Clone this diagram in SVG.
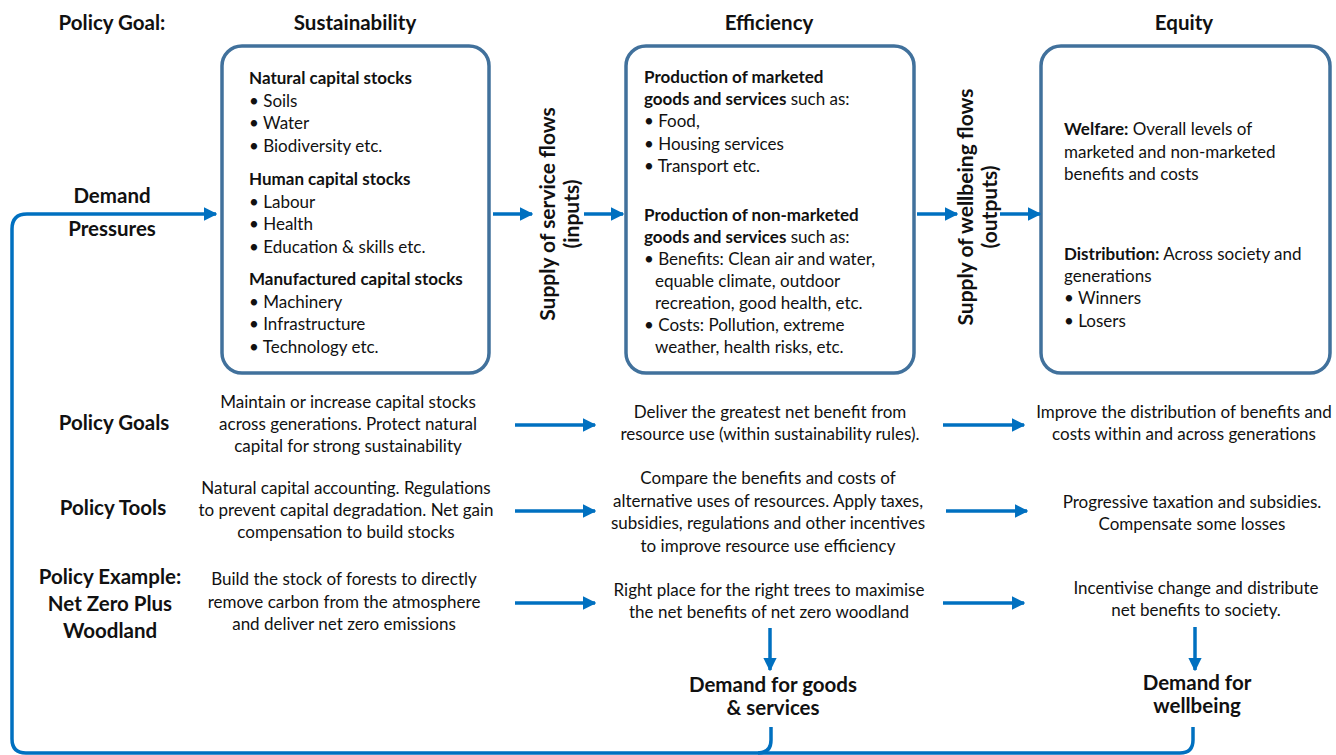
<svg xmlns="http://www.w3.org/2000/svg" width="1336" height="755" viewBox="0 0 1336 755">
<defs>
<style>
text{font-family:Lato,"Liberation Sans",Arial,sans-serif;fill:#111;}
.h{font-size:20.5px;font-weight:bold;}
.v{font-size:21px;font-weight:bold;}
.t{font-size:17px;}
.b{font-weight:bold;}
.c{text-anchor:middle;}
.box{fill:#fff;stroke:#41719C;stroke-width:3.5;}
.con{fill:none;stroke:#0070C0;stroke-width:3.5;}
</style>
<marker id="ah" viewBox="0 0 10 10" refX="9" refY="5" markerWidth="3.8" markerHeight="3.8" orient="auto" markerUnits="strokeWidth">
<path d="M0 0 L10 5 L0 10 z" fill="#0070C0"/>
</marker>
</defs>
<rect width="1336" height="755" fill="#fff"/>

<g id="headers">
<text class="h c" x="112" y="30">Policy Goal:</text>
<text class="h c" x="355" y="30">Sustainability</text>
<text class="h c" x="769" y="30">Efficiency</text>
<text class="h c" x="1184" y="30">Equity</text>
</g>

<g id="sustainability">
<rect class="box" x="222" y="46" width="267" height="327" rx="20"/>
<text class="t" x="249" y="84"><tspan class="b">Natural capital stocks</tspan>
<tspan x="249" dy="22.5">• Soils</tspan><tspan x="249" dy="22.5">• Water</tspan><tspan x="249" dy="22.5">• Biodiversity etc.</tspan></text>
<text class="t" x="249" y="185"><tspan class="b">Human capital stocks</tspan>
<tspan x="249" dy="22.5">• Labour</tspan><tspan x="249" dy="22.5">• Health</tspan><tspan x="249" dy="22.5">• Education &amp; skills etc.</tspan></text>
<text class="t" x="249" y="285"><tspan class="b">Manufactured capital stocks</tspan>
<tspan x="249" dy="22.5">• Machinery</tspan><tspan x="249" dy="22.5">• Infrastructure</tspan><tspan x="249" dy="22.5">• Technology  etc.</tspan></text>
</g>

<g id="efficiency">
<rect class="box" x="626" y="46" width="288" height="327" rx="20"/>
<text class="t" x="644" y="83"><tspan class="b">Production of marketed</tspan>
<tspan x="644" dy="22"><tspan class="b">goods and services</tspan> such as:</tspan>
<tspan x="644" dy="22">• Food,</tspan><tspan x="644" dy="22.5">• Housing services</tspan><tspan x="644" dy="22">• Transport etc.</tspan></text>
<text class="t" x="644" y="221"><tspan class="b">Production of non-marketed</tspan>
<tspan x="644" dy="22"><tspan class="b">goods and services</tspan> such as:</tspan>
<tspan x="644" dy="22">• Benefits: Clean air and water,</tspan>
<tspan x="655" dy="22">equable climate, outdoor</tspan>
<tspan x="655" dy="22">recreation, good health, etc.</tspan>
<tspan x="644" dy="22">• Costs: Pollution, extreme</tspan>
<tspan x="655" dy="22">weather, health risks, etc.</tspan></text>
</g>

<g id="equity">
<rect class="box" x="1041" y="46" width="289" height="327" rx="20"/>
<text class="t" x="1064" y="135"><tspan class="b">Welfare:</tspan> Overall levels of
<tspan x="1064" dy="22.5">marketed and non-marketed</tspan>
<tspan x="1064" dy="22.5">benefits and costs</tspan></text>
<text class="t" x="1064" y="260"><tspan class="b">Distribution:</tspan>  Across society and
<tspan x="1064" dy="22">generations</tspan>
<tspan x="1064" dy="22">• Winners</tspan>
<tspan x="1064" dy="23">• Losers</tspan></text>
</g>

<g id="demand-pressures">
<text class="h c" x="112" y="203">Demand</text>
<text class="h c" x="112" y="236">Pressures</text>
</g>

<g id="supply-service">
<text class="v c" transform="translate(555 214) rotate(-90)"><tspan x="0" y="0">Supply of service flows</tspan><tspan x="0" y="24">(inputs)</tspan></text>
</g>
<g id="supply-wellbeing">
<text class="v c" transform="translate(973 207) rotate(-90)"><tspan x="0" y="0">Supply of wellbeing flows</tspan><tspan x="0" y="24">(outputs)</tspan></text>
</g>

<g id="row-labels">
<text class="h c" x="114" y="430">Policy Goals</text>
<text class="h c" x="113" y="515">Policy Tools</text>
<text class="h c" x="110" y="584">Policy Example:</text>
<text class="h c" x="110" y="611">Net Zero Plus</text>
<text class="h c" x="110" y="638">Woodland</text>
</g>

<g id="goals-text">
<text class="t c" x="348" y="408">Maintain or increase capital stocks<tspan x="348" dy="22">across generations. Protect natural</tspan><tspan x="348" dy="22">capital for strong sustainability</tspan></text>
<text class="t c" x="770" y="418">Deliver the greatest net benefit from<tspan x="770" dy="22">resource use (within sustainability rules).</tspan></text>
<text class="t c" x="1184" y="418">Improve the distribution of benefits and<tspan x="1184" dy="22">costs within and across generations</tspan></text>
</g>

<g id="tools-text">
<text class="t c" x="346" y="494">Natural capital accounting. Regulations<tspan x="346" dy="22">to prevent capital degradation. Net gain</tspan><tspan x="346" dy="22">compensation to build stocks</tspan></text>
<text class="t c" x="768" y="484">Compare the benefits and costs of<tspan x="768" dy="22.5">alternative uses of resources. Apply taxes,</tspan><tspan x="768" dy="22.5">subsidies, regulations and other incentives</tspan><tspan x="768" dy="22.5">to improve resource use efficiency</tspan></text>
<text class="t c" x="1192" y="508">Progressive taxation and subsidies.<tspan x="1192" dy="22">Compensate some losses</tspan></text>
</g>

<g id="example-text">
<text class="t c" x="344" y="585">Build the stock of forests to directly<tspan x="344" dy="22.5">remove carbon from the atmosphere</tspan><tspan x="344" dy="22.5">and deliver net zero emissions</tspan></text>
<text class="t c" x="769" y="596">Right place for the right trees to maximise<tspan x="769" dy="22">the net benefits of net zero woodland</tspan></text>
<text class="t c" x="1196" y="594">Incentivise change and distribute<tspan x="1196" dy="22">net benefits to society.</tspan></text>
</g>

<g id="demand-goods">
<text class="h c" x="773" y="692">Demand for goods</text>
<text class="h c" x="773" y="715">&amp; services</text>
</g>
<g id="demand-wellbeing">
<text class="h c" x="1197" y="690">Demand for</text>
<text class="h c" x="1197" y="713">wellbeing</text>
</g>

<g id="connectors">
<path class="con" d="M1193 727 V740 Q1193 753 1180 753 H26 Q12 753 12 739 V229 Q12 214 27 214 H216" marker-end="url(#ah)"/>
<path class="con" d="M771 727 V740 Q771 753 758 753"/>
<path class="con" d="M493 214 H532" marker-end="url(#ah)"/>
<path class="con" d="M584 214 H623" marker-end="url(#ah)"/>
<path class="con" d="M917 214 H957" marker-end="url(#ah)"/>
<path class="con" d="M1000 214 H1040" marker-end="url(#ah)"/>
<path class="con" d="M515 425 H595" marker-end="url(#ah)"/>
<path class="con" d="M943 425 H1024" marker-end="url(#ah)"/>
<path class="con" d="M515 511 H595" marker-end="url(#ah)"/>
<path class="con" d="M946 511 H1027" marker-end="url(#ah)"/>
<path class="con" d="M515 603 H595" marker-end="url(#ah)"/>
<path class="con" d="M943 603 H1024" marker-end="url(#ah)"/>
<path class="con" d="M770 628 V670" marker-end="url(#ah)"/>
<path class="con" d="M1195 627 V670" marker-end="url(#ah)"/>
</g>
</svg>
